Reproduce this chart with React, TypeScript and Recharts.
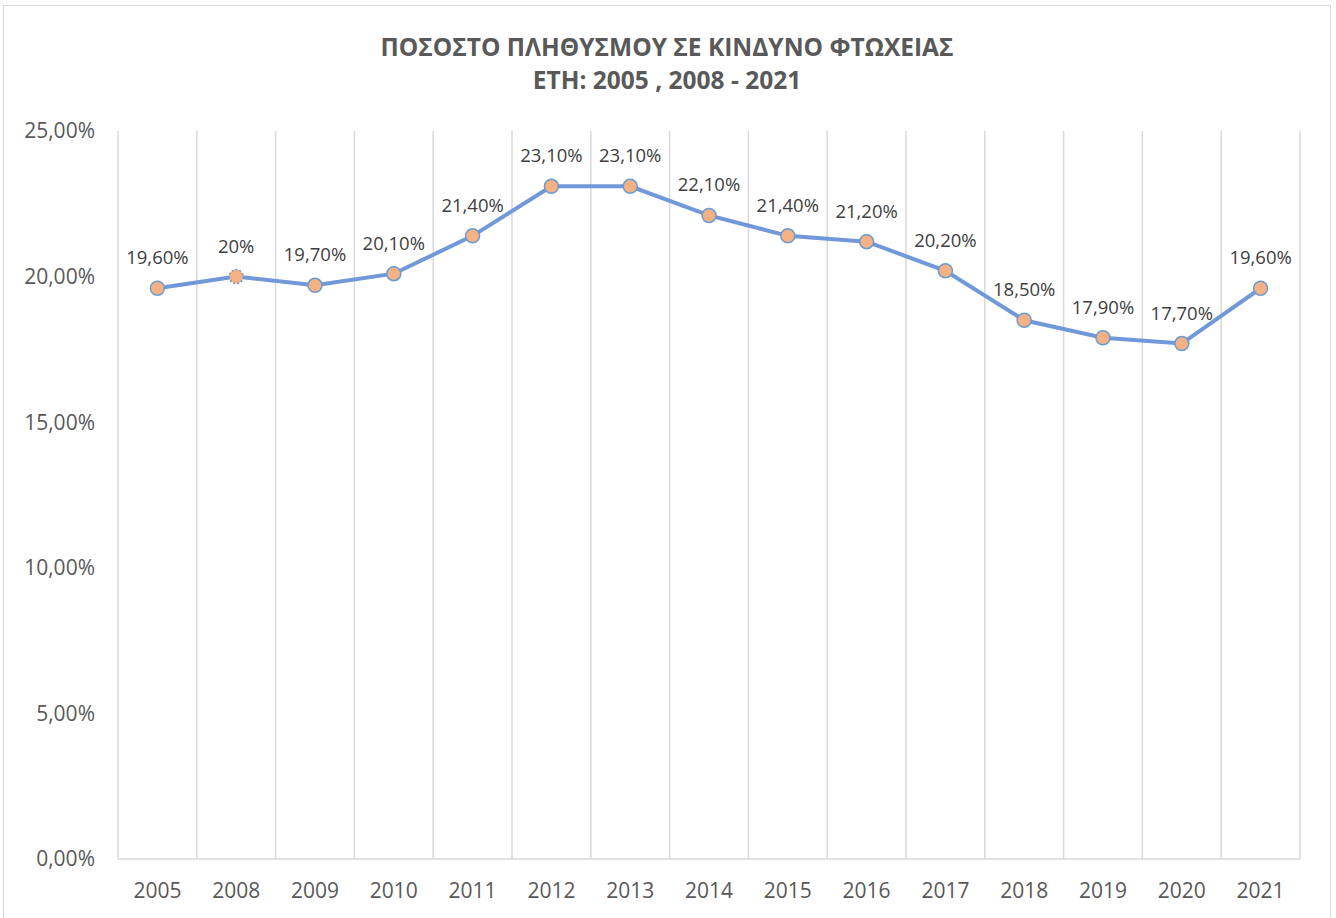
import { LineChart, Line, XAxis, YAxis, CartesianGrid, LabelList } from 'recharts'

const years = ['2005', '2008', '2009', '2010', '2011', '2012', '2013', '2014', '2015', '2016', '2017', '2018', '2019', '2020', '2021']
const povertyRate = [19.6, 20, 19.7, 20.1, 21.4, 23.1, 23.1, 22.1, 21.4, 21.2, 20.2, 18.5, 17.9, 17.7, 19.6]
const rateLabels = ['19,60%', '20%', '19,70%', '20,10%', '21,40%', '23,10%', '23,10%', '22,10%', '21,40%', '21,20%', '20,20%', '18,50%', '17,90%', '17,70%', '19,60%']
const yTicks = [0, 5, 10, 15, 20, 25]

const data = years.map((year, i) => ({ year, rate: povertyRate[i], label: rateLabels[i] }))

const FONT = '"Open Sans", sans-serif'
const W = 1336
const H = 918

function Marker(props: any) {
  const { cx, cy, index } = props
  const dashed = years[index] === '2008'
  return (
    <circle
      key={`dot-${index}`}
      cx={cx}
      cy={cy}
      r={7}
      fill="#F4B183"
      stroke="#6A9BD3"
      strokeWidth={1.5}
      strokeDasharray={dashed ? '2 2' : undefined}
    />
  )
}

export default function App() {
  return (
    <div style={{ position: 'absolute', left: 0, top: 0, width: W, height: H, background: '#fff', overflow: 'hidden', fontFamily: FONT }}>
      <div style={{ position: 'absolute', left: 3, top: 5, width: 1326, height: 940, border: '1.5px solid #D9D9D9' }} />
      <div style={{ position: 'absolute', left: 0, top: 30, width: W - 2, textAlign: 'center', color: '#595959', fontWeight: 700, fontSize: 24.5, lineHeight: '33px' }}>
        <div>ΠΟΣΟΣΤΟ ΠΛΗΘΥΣΜΟΥ ΣΕ ΚΙΝΔΥΝΟ ΦΤΩΧΕΙΑΣ</div>
        <div>ΕΤΗ: 2005 , 2008 - 2021</div>
      </div>
      <div style={{ position: 'absolute', left: 0, top: 0 }}>
        <LineChart width={W} height={H} data={data} margin={{ top: 131, right: 36, left: 0, bottom: 0 }}>
          <CartesianGrid
            horizontal={false}
            stroke="#D9D9D9"
            strokeWidth={1.5}
            verticalCoordinatesGenerator={({ offset }: any) =>
              Array.from({ length: years.length + 1 }, (_, i) => offset.left + (offset.width * i) / years.length)
            }
          />
          <XAxis
            dataKey="year"
            height={59}
            padding={{ left: 39.4, right: 39.4 }}
            tickLine={false}
            tickSize={0}
            tickMargin={24}
            axisLine={{ stroke: '#D9D9D9', strokeWidth: 1.5 }}
            tick={{ fontSize: 21, fill: '#595959', fontFamily: FONT }}
            interval={0}
          />
          <YAxis
            width={118}
            domain={[0, 25]}
            ticks={yTicks}
            tickLine={false}
            axisLine={false}
            tickSize={0}
            tickMargin={23}
            tick={{ fontSize: 21, fill: '#595959', fontFamily: FONT }}
            tickFormatter={(v: number) => `${v.toFixed(2).replace('.', ',')}%`}
          />
          <Line
            type="linear"
            dataKey="rate"
            stroke="#7198D8"
            strokeWidth={4}
            dot={Marker}
            activeDot={false}
            isAnimationActive={false}
          >
            <LabelList dataKey="label" position="top" offset={24} style={{ fontSize: 18.5, fill: '#404040', fontFamily: FONT }} />
          </Line>
        </LineChart>
      </div>
    </div>
  )
}
